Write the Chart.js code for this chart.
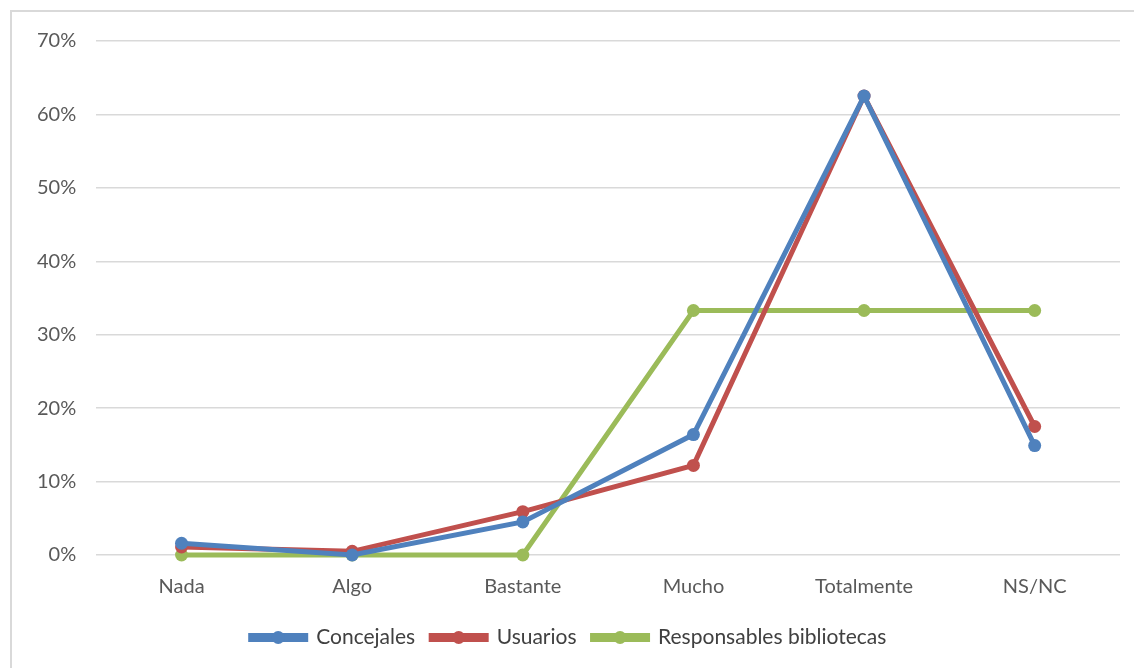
<!DOCTYPE html>
<html>
<head>
<meta charset="utf-8">
<script src="https://cdn.jsdelivr.net/npm/chart.js@4.4.1/dist/chart.umd.min.js"></script>
<style>
  html, body { margin: 0; padding: 0; background: #fff; }
  #frame {
    position: absolute; left: 10px; top: 10px;
    width: 1140px; height: 680px;
    border: 2px solid #d9d9d9;
  }
  #wrap { position: absolute; left: 0; top: 0; width: 1134px; height: 668px; }
</style>
</head>
<body>
<div id="frame"></div>
<div id="wrap"><canvas id="myChart" width="1134" height="668"></canvas></div>
<script>
const categories = ["Nada", "Algo", "Bastante", "Mucho", "Totalmente", "NS/NC"];
const concejales = [1.6, 0, 4.5, 16.4, 62.5, 14.9];
const usuarios = [1.1, 0.5, 5.9, 12.2, 62.5, 17.5];
const responsables = [0, 0, 0, 33.3, 33.3, 33.3];

const FONT = "Lato, 'Open Sans', sans-serif";

// draws the circle in the middle of each legend line
const legendDots = {
    id: "legendDots",
    afterDraw(chart) {
        const legend = chart.legend;
        if (!legend || !legend.legendHitBoxes) return;
        const c = chart.ctx;
        legend.legendHitBoxes.forEach((box, i) => {
            const ds = chart.data.datasets[i];
            const bw = legend.options.labels.boxWidth;
            c.save();
            c.fillStyle = ds.borderColor;
            c.beginPath();
            c.arc(box.left + bw / 2, box.top + box.height / 2, 6.5, 0, Math.PI * 2);
            c.fill();
            c.restore();
        });
    }
};

const ctx = document.getElementById("myChart").getContext("2d");

const mk = (label, data, color) => ({
    label,
    data,
    borderColor: color,
    backgroundColor: color,
    borderWidth: 5,
    pointRadius: 6.5,
    pointHoverRadius: 6.5,
    pointBackgroundColor: color,
    pointBorderWidth: 0,
    tension: 0,
    clip: 10
});

const config = {
    type: "line",
    data: {
        labels: categories,
        datasets: [
            mk("Concejales", concejales, "#4f81bd"),
            mk("Usuarios", usuarios, "#c0504d"),
            mk("Responsables bibliotecas", responsables, "#9bbb59")
        ]
    },
    options: {
        responsive: false,
        animation: false,
        layout: { padding: { left: 17, right: 14, top: 41, bottom: 10 } },
        plugins: {
            tooltip: { enabled: false },
            legend: {
                position: "bottom",
                labels: {
                    boxWidth: 55,
                    boxHeight: 4,
                    padding: 16,
                    color: "#404040",
                    font: { family: FONT, size: 21 }
                }
            }
        },
        scales: {
            x: {
                offset: true,
                grid: { display: false },
                border: { display: false },
                ticks: { color: "#595959", font: { family: FONT, size: 20 }, padding: 12 }
            },
            y: {
                min: 0,
                max: 70,
                grid: { color: "#d9d9d9", lineWidth: 1.5, drawTicks: false },
                border: { display: false },
                ticks: {
                    stepSize: 10,
                    padding: 20,
                    color: "#595959",
                    font: { family: FONT, size: 20 },
                    callback: function(value) {
                        return value + "%";
                    }
                }
            }
        }
    },
    plugins: [legendDots]
};

const myChart = new Chart(ctx, config);
</script>
</body>
</html>
